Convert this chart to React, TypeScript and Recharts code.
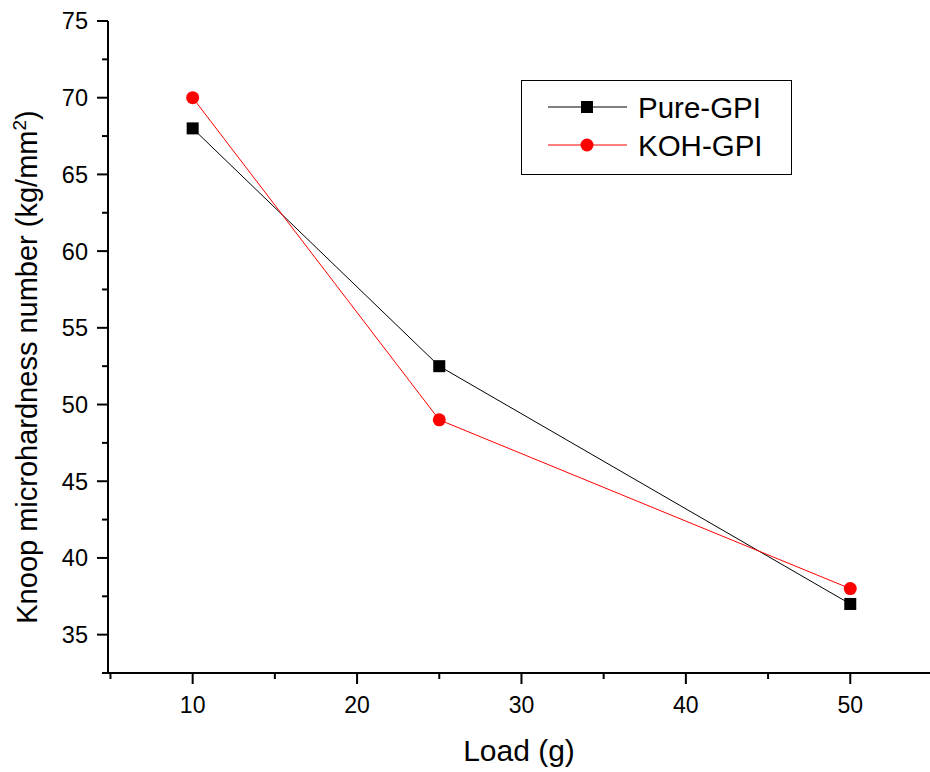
import { Line, LineChart, XAxis, YAxis } from 'recharts';

const loads = [10, 25, 50];
const pureGpi = [68, 52.5, 37];
const kohGpi = [70, 49, 38];

const xMajorTicks = [10, 20, 30, 40, 50];
const xMinorTicks = [5, 15, 25, 35, 45];
const yMajorTicks = [35, 40, 45, 50, 55, 60, 65, 70, 75];
const yMinorTicks = [32.5, 37.5, 42.5, 47.5, 52.5, 57.5, 62.5, 67.5, 72.5];

const rows = loads.map((load, i) => ({ load, pure: pureGpi[i], koh: kohGpi[i] }));

const FONT = '"Liberation Sans", Arial, sans-serif';

function XTick({ x, y, payload }: any) {
  const major = xMajorTicks.includes(payload.value);
  return (
    <g>
      <line x1={x} y1={y} x2={x} y2={y + (major ? 11 : 6)} stroke="#000" strokeWidth={2} />
      {major && (
        <text x={x} y={y + 40} textAnchor="middle" fontSize={23} fontFamily={FONT} fill="#000">
          {payload.value}
        </text>
      )}
    </g>
  );
}

function YTick({ x, y, payload }: any) {
  const major = yMajorTicks.includes(payload.value);
  return (
    <g>
      <line x1={x} y1={y} x2={x - (major ? 11 : 6)} y2={y} stroke="#000" strokeWidth={2} />
      {major && (
        <text x={x - 20} y={y} dy="0.36em" textAnchor="end" fontSize={23.5} fontFamily={FONT} fill="#000">
          {payload.value}
        </text>
      )}
    </g>
  );
}

function SquareDot({ cx, cy }: any) {
  if (cx == null || cy == null) return null;
  return <rect x={cx - 6} y={cy - 6} width={12} height={12} fill="#000" />;
}

function CircleDot({ cx, cy }: any) {
  if (cx == null || cy == null) return null;
  return <circle cx={cx} cy={cy} r={6.5} fill="#f00" />;
}

function LegendBox() {
  return (
    <svg width={930} height={772} style={{ position: 'absolute', left: 0, top: 0, pointerEvents: 'none' }}>
      <rect x={521.5} y={80.5} width={270} height={94} fill="#fff" stroke="#000" strokeWidth={1} />
      <line x1={548} y1={107} x2={627} y2={107} stroke="#000" strokeWidth={1} />
      <rect x={581} y={101} width={12} height={12} fill="#000" />
      <text x={638} y={118} fontSize={29.5} fontFamily={FONT} fill="#000">Pure-GPI</text>
      <line x1={548} y1={145} x2={627} y2={145} stroke="#f00" strokeWidth={1} />
      <circle cx={587} cy={145} r={6.5} fill="#f00" />
      <text x={638} y={156} fontSize={29.5} fontFamily={FONT} fill="#000">KOH-GPI</text>
    </svg>
  );
}

function YLabel() {
  return (
    <text
      transform="rotate(-90, 27, 367)"
      x={27}
      y={367}
      dy="0.36em"
      textAnchor="middle"
      fontSize={29}
      fontFamily={FONT}
      fill="#000"
    >
      Knoop microhardness number (kg/mm
      <tspan dy={-11} fontSize={19}>2</tspan>
      <tspan dy={11}>)</tspan>
    </text>
  );
}

function XLabel() {
  return (
    <text x={519} y={761} textAnchor="middle" fontSize={30} fontFamily={FONT} fill="#000">
      Load (g)
    </text>
  );
}

export default function App() {
  return (
    <div style={{ position: 'absolute', left: 0, top: 0, width: 930, height: 772, background: '#fff' }}>
      <LineChart width={930} height={772} data={rows} margin={{ top: 21, right: 0, left: 0, bottom: 0 }}>
        <XAxis
          dataKey="load"
          type="number"
          domain={[4.85, 54.85]}
          allowDataOverflow
          ticks={[...xMinorTicks, ...xMajorTicks].sort((a, b) => a - b)}
          interval={0}
          height={99}
          tickSize={0}
          tickMargin={0}
          tickLine={false}
          tick={<XTick />}
          axisLine={{ stroke: '#000', strokeWidth: 2 }}
          label={<XLabel />}
        />
        <YAxis
          type="number"
          domain={[32.5, 75]}
          ticks={[...yMinorTicks, ...yMajorTicks].sort((a, b) => a - b)}
          interval={0}
          width={108}
          tickSize={0}
          tickMargin={0}
          tickLine={false}
          tick={<YTick />}
          axisLine={{ stroke: '#000', strokeWidth: 2 }}
          label={<YLabel />}
        />
        <Line
          dataKey="pure"
          stroke="#000"
          strokeWidth={1}
          dot={<SquareDot />}
          activeDot={false}
          isAnimationActive={false}
        />
        <Line
          dataKey="koh"
          stroke="#f00"
          strokeWidth={1}
          dot={<CircleDot />}
          activeDot={false}
          isAnimationActive={false}
        />
      </LineChart>
      <LegendBox />
    </div>
  );
}
